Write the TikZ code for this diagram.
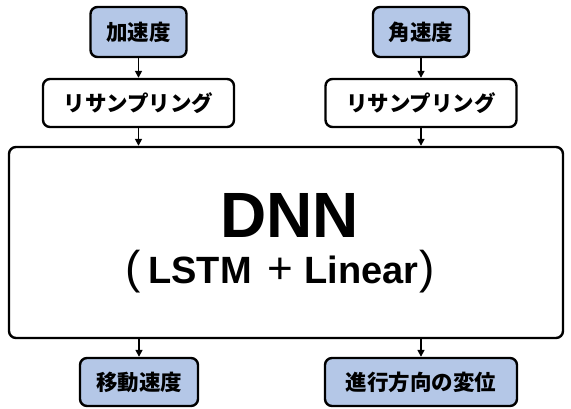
\documentclass[tikz,border=0pt]{standalone}
\usepackage{fontspec}
\setmainfont{Noto Sans CJK JP}
\newfontfamily\latfont{Liberation Sans}
\usetikzlibrary{arrows.meta}
\definecolor{boxblue}{HTML}{B4C7E7}
\tikzset{
  box/.style={draw=black, line width=2.4pt, rounded corners=7pt, inner sep=0pt, align=center, font=\fontsize{21.5}{24}\selectfont\bfseries},
  inbox/.style={box, fill=boxblue},
  midbox/.style={box, fill=white},
  arr/.style={line width=1.6pt, -{Triangle[length=7pt,width=7pt]}},
}
\newcommand{\thinch}[1]{{\mdseries\fontsize{44}{48}\selectfont #1}}
\newcommand{\bigparen}[1]{{\mdseries\fontsize{46}{48}\selectfont #1}}
\begin{document}
\begin{tikzpicture}[x=1pt,y=-1pt]
\useasboundingbox (0,0) rectangle (571,408);
\node[inbox, minimum width=96, minimum height=50] (acc) at (138.5,32) {加速度};
\node[inbox, minimum width=96, minimum height=50] (gyro) at (421,32) {角速度};
\node[midbox, minimum width=191, minimum height=48] (rs1) at (138.5,103) {リサンプリング};
\node[midbox, minimum width=191, minimum height=48] (rs2) at (421,103) {リサンプリング};
\node[midbox, minimum width=554, minimum height=191] (dnn) at (286,242.5) {};
\node[font=\fontsize{64}{70}\selectfont\latfont\bfseries, inner sep=0pt] (t1) at (289.5,215) {DNN};
\node[font=\fontsize{38}{42}\selectfont\latfont\bfseries, inner sep=0pt] (t2) at (280,272) {\bigparen{(}\hspace{8pt}LSTM\hspace{16pt}\thinch{+}\hspace{11pt}Linear\hspace{1pt}\bigparen{)}};
\node[inbox, minimum width=118, minimum height=48] (o1) at (139,382) {移動速度};
\node[inbox, minimum width=192, minimum height=48] (o2) at (421,382) {進行方向の変位};
\draw[arr] (acc.south) -- (rs1.north);
\draw[arr] (gyro.south) -- (rs2.north);
\draw[arr] (rs1.south) -- (rs1.south |- dnn.north);
\draw[arr] (rs2.south) -- (rs2.south |- dnn.north);
\draw[arr] (dnn.south -| o1.north) -- (o1.north);
\draw[arr] (dnn.south -| o2.north) -- (o2.north);
\end{tikzpicture}
\end{document}
